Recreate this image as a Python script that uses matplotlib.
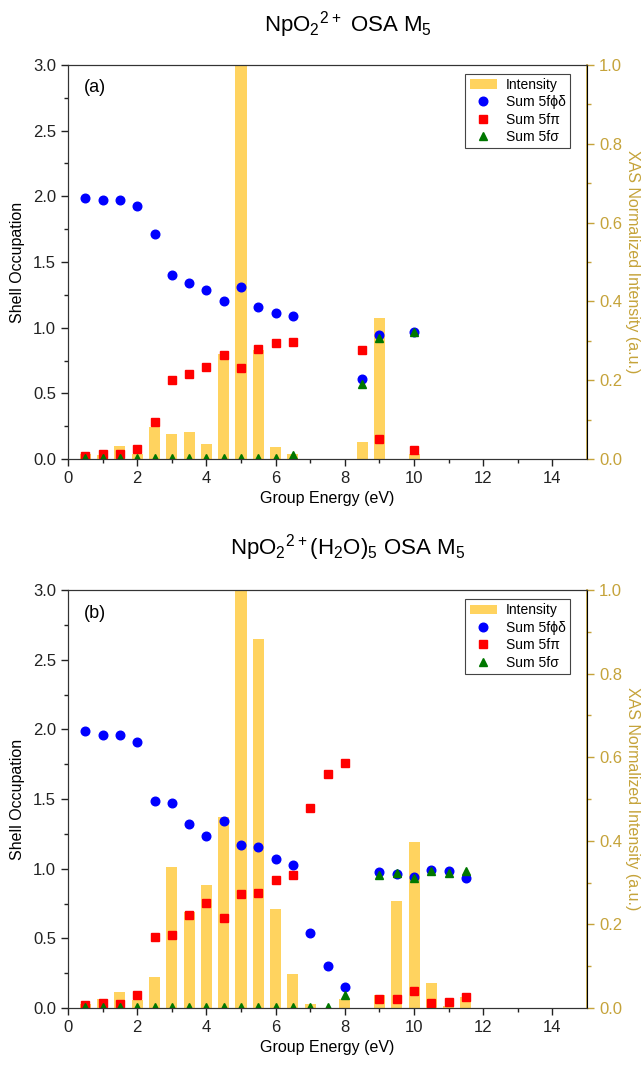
import numpy as np
import matplotlib
matplotlib.use('Agg')
import matplotlib.pyplot as plt
from matplotlib.ticker import FormatStrFormatter

plt.rcParams['font.family'] = ['Liberation Sans', 'DejaVu Sans']
plt.rcParams['mathtext.default'] = 'regular'

# panel (a) NpO2 2+
ea = [0.5, 1.0, 1.5, 2.0, 2.5, 3.0, 3.5, 4.0, 4.5, 5.0, 5.5, 6.0, 6.5, 8.5, 9.0, 10.0]
int_a = [0.013, 0.01, 0.032, 0.013, 0.08, 0.063, 0.069, 0.039, 0.266, 1.0, 0.277, 0.031, 0.013, 0.044, 0.357, 0.012]
phd_a = [1.99, 1.97, 1.97, 1.93, 1.71, 1.40, 1.34, 1.29, 1.20, 1.31, 1.16, 1.11, 1.09, 0.61, 0.944, 0.97]
pi_a = [0.025, 0.035, 0.035, 0.076, 0.28, 0.60, 0.65, 0.70, 0.79, 0.69, 0.84, 0.88, 0.89, 0.83, 0.15, 0.07]
sig_a = [0.01, 0.01, 0.01, 0.01, 0.01, 0.01, 0.01, 0.01, 0.01, 0.01, 0.01, 0.01, 0.03, 0.57, 0.92, 0.97]

# panel (b) NpO2 2+ (H2O)5
eb = [0.5, 1.0, 1.5, 2.0, 2.5, 3.0, 3.5, 4.0, 4.5, 5.0, 5.5, 6.0, 6.5, 7.0, 7.5, 8.0,
      9.0, 9.5, 10.0, 10.5, 11.0, 11.5]
int_b = [0.009, 0.021, 0.0375, 0.019, 0.074, 0.338, 0.229, 0.294, 0.458, 1.0, 0.882, 0.238, 0.081, 0.009, 0.0, 0.021,
         0.032, 0.257, 0.397, 0.06, 0.006, 0.026]
phd_b = [1.985, 1.96, 1.963, 1.91, 1.484, 1.47, 1.32, 1.233, 1.34, 1.168, 1.159, 1.068, 1.03, 0.54, 0.30, 0.15,
         0.974, 0.962, 0.943, 0.991, 0.98, 0.934]
pi_b = [0.02, 0.036, 0.031, 0.09, 0.51, 0.524, 0.668, 0.757, 0.649, 0.819, 0.826, 0.917, 0.958, 1.439, 1.68, 1.757,
        0.067, 0.062, 0.122, 0.036, 0.045, 0.081]
sig_b = [0.01, 0.01, 0.01, 0.01, 0.01, 0.01, 0.01, 0.01, 0.01, 0.01, 0.01, 0.01, 0.01, 0.01, 0.01, 0.096,
         0.953, 0.972, 0.936, 0.98, 0.972, 0.986]

gold = '#C5A33A'
barcol = '#FFD35F'

fig = plt.figure(figsize=(6.44, 10.65), dpi=100)


def panel(rect, e, inten, phd, pi, sig, tag, title, ty):
    ax = fig.add_axes(rect)
    ax2 = ax.twinx()
    # occupation markers sit on top of the intensity bars
    ax.set_zorder(ax2.get_zorder() + 1)
    ax.patch.set_visible(False)

    b = ax2.bar(e, inten, width=0.32, color=barcol)
    l1, = ax.plot(e, phd, 'o', color='#0000FF', ms=6.2)
    l2, = ax.plot(e, pi, 's', color='#FF0000', ms=5.6)
    l3, = ax.plot(e, sig, '^', color='#007700', ms=6.2)

    ax.set_xlim(0, 15)
    ax.set_ylim(0, 3.0)
    ax2.set_ylim(0, 1.0)
    ax.set_xticks(np.arange(0, 15, 2))
    ax.set_xticks(np.arange(1, 15, 2), minor=True)
    ax.set_yticks(np.arange(0, 3.01, 0.5))
    ax.set_yticks(np.arange(0.25, 3.0, 0.5), minor=True)
    ax.yaxis.set_major_formatter(FormatStrFormatter('%.1f'))
    ax2.set_yticks(np.arange(0, 1.01, 0.2))
    ax2.set_yticks(np.arange(0.1, 1.0, 0.2), minor=True)
    ax2.yaxis.set_major_formatter(FormatStrFormatter('%.1f'))

    ax.tick_params(which='major', length=5, width=1, labelsize=12, direction='out', colors='#222222')
    ax.tick_params(which='minor', length=3, width=1, direction='out', colors='#222222')
    ax2.tick_params(which='major', length=5, width=1, labelsize=12, colors=gold, direction='out')
    ax2.tick_params(which='minor', length=3, width=1, colors=gold, direction='out')
    ax2.spines['right'].set_color(gold)
    ax2.spines['right'].set_linewidth(1.2)
    for s in ['left', 'bottom', 'top']:
        ax2.spines[s].set_color('#333333')
        ax.spines[s].set_color('#333333')

    ax.set_xlabel('Group Energy (eV)', fontsize=11.5, labelpad=4)
    ax.set_ylabel('Shell Occupation', fontsize=11.5, labelpad=6)
    ax2.set_ylabel('XAS Normalized Intensity (a.u.)', fontsize=11.5, color=gold, rotation=270, labelpad=13)
    ax.text(0.03, 0.965, tag, transform=ax.transAxes, fontsize=13, va='top', ha='left')

    leg = ax.legend([b, l1, l2, l3], ['Intensity', 'Sum 5f\u03d5\u03b4', 'Sum 5f\u03c0', 'Sum 5f\u03c3'],
                    loc='upper right', bbox_to_anchor=(0.972, 0.985), fontsize=10, fancybox=False,
                    framealpha=1, edgecolor='#444444', handlelength=2.0, borderpad=0.3, labelspacing=0.25,
                    handletextpad=0.6, borderaxespad=0.2)
    leg.get_frame().set_linewidth(0.8)
    fig.text(348 / 644, ty, title, ha='center', va='center', fontsize=16)


panel([0.1056, 0.569, 0.806, 0.370], ea, int_a, phd_a, pi_a, sig_a, '(a)',
      r'NpO$_2{}^{2+}$ OSA M$_5$', 1 - 25 / 1065)
panel([0.1056, 0.0535, 0.806, 0.3925], eb, int_b, phd_b, pi_b, sig_b, '(b)',
      r'NpO$_2{}^{2+}$(H$_2$O)$_5$ OSA M$_5$', 1 - 548 / 1065)

fig.savefig('out.png', dpi=100)
